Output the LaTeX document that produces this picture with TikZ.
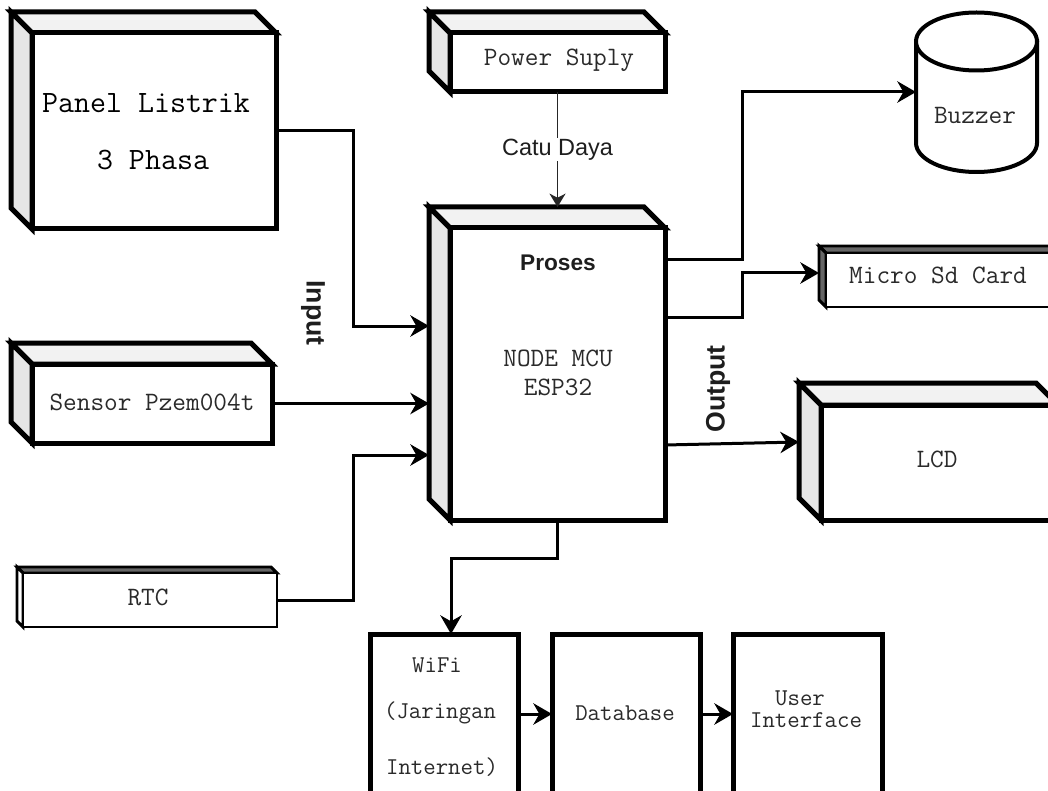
\documentclass[tikz,border=0pt]{standalone}
\usepackage{fontspec}
\newcommand\monof{\ttfamily}
\newfontfamily\sansf{Liberation Sans}
\usetikzlibrary{arrows.meta,calc}
\definecolor{sidegray}{HTML}{E6E6E6}
\definecolor{topgray}{HTML}{F2F2F2}
\definecolor{darkface}{HTML}{666666}
\definecolor{txt}{HTML}{1E1E1E}
\definecolor{monocol}{HTML}{2A2A2A}
\tikzset{
  conn/.style={draw=black, line width=2.25pt, line join=miter, -{Stealth[length=14pt,width=16pt,inset=4.5pt]}},
  thinconn/.style={draw=black!85, line width=1.3pt, -{Stealth[length=10pt,width=12pt,inset=3pt]}},
  monotxt/.style={font=\monof\fontsize{19.9}{22}\selectfont, text=monocol, inner sep=0},
  monosmall/.style={font=\monof\fontsize{18.1}{21}\selectfont, text=monocol, inner sep=0},
  monobig/.style={font=\monof\fontsize{23.3}{26}\selectfont, text=black, inner sep=0},
  plainbox/.style={draw=black, line width=3.75pt, fill=white, inner sep=0, outer sep=0},
}
% name, x1, y1, x2, y2, depth, line width, top fill, side fill
\newcommand\threedbox[9]{%
  \pgfmathsetmacro\tbw{(#4-#2-#6)*0.75}%
  \pgfmathsetmacro\tbh{(#5-#3-#6)*0.75}%
  \pgfmathsetmacro\tow{(#4-#2)*0.75}%
  \pgfmathsetmacro\toh{(#5-#3)*0.75}%
  \node[inner sep=0, outer sep=0, minimum width=\tow pt, minimum height=\toh pt] (#1-outer) at ({(#2+#4)/2},{(#3+#5)/2}) {};
  \filldraw[line width=#7, fill=#8, line join=miter] (#2,#3) -- ({#4-#6},#3) -- (#4,{#3+#6}) -- ({#2+#6},{#3+#6}) -- cycle;
  \filldraw[line width=#7, fill=#9, line join=miter] (#2,#3) -- ({#2+#6},{#3+#6}) -- ({#2+#6},#5) -- (#2,{#5-#6}) -- cycle;
  \node[draw, line width=#7, fill=white, inner sep=0, outer sep=0, minimum width=\tbw pt, minimum height=\tbh pt] (#1) at ({(#2+#6+#4)/2},{(#3+#6+#5)/2}) {};
}
\begin{document}
\begin{tikzpicture}[x=0.75pt,y=-0.75pt]
\useasboundingbox (0,0) rectangle (1048,791);
\clip (0,0) rectangle (1048,791);
\fill[white] (0,0) rectangle (1048,791);

% 3D boxes
\threedbox{panel}{11}{12}{276}{229}{21}{3.75pt}{topgray}{sidegray}
\threedbox{power}{429}{12}{665}{92}{21}{3.75pt}{topgray}{sidegray}
\threedbox{mcu}{429}{207}{665}{520}{21}{3.75pt}{topgray}{sidegray}
\threedbox{sensor}{11}{343}{272}{443}{21}{3.75pt}{topgray}{sidegray}
\threedbox{rtc}{17}{567}{277}{627}{6}{2.2pt}{darkface}{white}
\threedbox{microsd}{819}{246}{1058}{307}{7}{2.2pt}{darkface}{darkface}
\threedbox{lcd}{799}{383}{1058}{520}{22}{3.75pt}{topgray}{sidegray}

% Buzzer cylinder
\node[inner sep=0, outer sep=0, minimum width=90.75pt, minimum height=120pt] (buzzer) at (976.5,92) {};
\filldraw[line width=3pt, fill=white] (916,41.5) -- (916,143) arc[start angle=180, end angle=0, x radius=60.5, y radius=29] -- (1037,41.5) -- cycle;
\filldraw[line width=3pt, fill=white] (976.5,41.5) ellipse[x radius=60.5, y radius=29];

% Bottom plain boxes
\node[plainbox, minimum width=111pt, minimum height=124.5pt] (wifi) at (444,717) {};
\node[plainbox, minimum width=111pt, minimum height=124.5pt] (db) at (626,717) {};
\node[plainbox, minimum width=111.75pt, minimum height=124.5pt] (ui) at (807.5,717) {};

% Texts
\node[monobig] (t-panel1) at (146,103) {Panel Listrik};
\node[monobig] (t-panel2) at (153,160) {3 Phasa};
\node[monotxt] (t-power) at (559,60) {Power Suply};
\node[monotxt] (t-sensor) at (152,402) {Sensor Pzem004t};
\node[monotxt] (t-rtc) at (148,597) {RTC};
\node[font=\sansf\bfseries\fontsize{17}{20}\selectfont, text=txt, inner sep=0] (t-proses) at (558,263) {Proses};
\node[monotxt] (t-mcu1) at (558,358) {NODE MCU};
\node[monotxt] (t-mcu2) at (558,387) {ESP32};
\node[monotxt] (t-buzzer) at (975,115) {Buzzer};
\node[monotxt] (t-microsd) at (938,275) {Micro Sd Card};
\node[monotxt] (t-lcd) at (937,459) {LCD};
\node[monosmall] (t-wifi1) at (437,665) {WiFi};
\node[monosmall] (t-wifi2) at (440,713) {(Jaringan};
\node[monosmall] (t-wifi3) at (442,767) {Internet)};
\node[monosmall] (t-db) at (625,713) {Database};
\node[monosmall] (t-ui1) at (800,698) {User};
\node[monosmall] (t-ui2) at (806,720) {Interface};
\node[font=\sansf\bfseries\fontsize{20}{24}\selectfont, text=txt, inner sep=0, rotate=-90] (t-input) at (313,313) {Input};
\node[font=\sansf\bfseries\fontsize{20}{24}\selectfont, text=txt, inner sep=0, rotate=90] (t-output) at (718,389) {Output};

% Bend coordinates
\coordinate (bA) at (353,326);
\coordinate (bB) at (353,455);
\coordinate (bC) at (742,92);
\coordinate (bD) at (742,273);
\coordinate (bE) at (451,558);
\coordinate (rowy) at (0,714);
\coordinate (sBuz) at ($(mcu.north east)+(0,32)$);
\coordinate (sSd) at ($(mcu.north east)+(0,89)$);
\coordinate (sLcd) at ($(mcu.north east)+(0,217)$);
\coordinate (eLcd) at ($(lcd-outer.west)+(0,-9.5)$);

% Connectors
\draw[conn] (panel.east) -| (bA) -- (bA -| mcu-outer.west);
\draw[conn] (sensor.east) -- (sensor.east -| mcu-outer.west);
\draw[conn] (rtc.east) -| (bB) -- (bB -| mcu-outer.west);
\draw[thinconn] (power.south) -- (power.south |- mcu-outer.north)
  node[midway, fill=white, inner sep=1pt, font=\sansf\fontsize{17.6}{20}\selectfont, text=txt] (t-catu) {Catu Daya};
\draw[conn] (sBuz) -| (bC) -- (bC -| buzzer.west);
\draw[conn] (sSd) -| (bD) -- (bD -| microsd-outer.west);
\draw[conn] (sLcd) -- (eLcd);
\draw[conn] (mcu.south) |- (bE) -- (bE |- wifi.north);
\draw[conn] (wifi.east |- rowy) -- (db.west |- rowy);
\draw[conn] (db.east |- rowy) -- (ui.west |- rowy);
\end{tikzpicture}
\end{document}
